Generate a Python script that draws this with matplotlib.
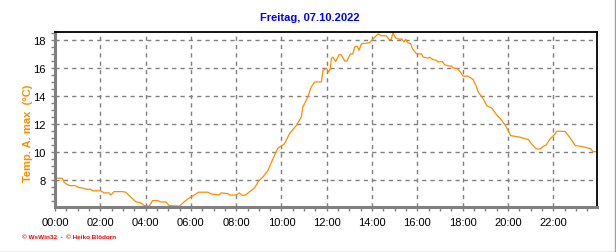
import matplotlib
matplotlib.use("Agg")
import matplotlib.pyplot as plt
from matplotlib.ticker import MultipleLocator, FuncFormatter
from matplotlib.lines import Line2D

# Stunden und Temperatur
hours = [0.0, 0.32, 0.4, 0.5, 0.65, 0.88, 1.06, 1.28, 1.36, 1.58, 1.65, 2.02, 2.17, 2.39,
         2.47, 2.61, 2.98, 3.12, 3.35, 3.57, 3.79, 3.94, 4.16, 4.31, 4.53, 4.68, 4.9,
         5.04, 5.5, 5.71, 5.93, 6.15, 6.34, 6.74, 6.89, 7.26, 7.33, 7.63, 7.7, 8.0,
         8.14, 8.26, 8.41, 8.58, 8.81, 9.0, 9.17, 9.4, 9.65, 9.84, 10.13, 10.35, 10.65,
         10.87, 10.94, 11.16, 11.31, 11.46, 11.76, 11.83, 11.98, 12.08, 12.15, 12.2,
         12.27, 12.39, 12.54, 12.64, 12.79, 12.89, 13.04, 13.15, 13.23, 13.35, 13.42,
         13.53, 13.89, 14.04, 14.27, 14.41, 14.63, 14.75, 14.85, 14.92, 15.04, 15.22,
         15.3, 15.41, 15.48, 15.59, 15.7, 15.78, 15.96, 16.18, 16.26, 16.48, 16.55,
         16.67, 16.84, 16.92, 17.1, 17.21, 17.43, 17.5, 17.58, 17.76, 17.9, 18.02,
         18.24, 18.46, 18.58, 18.69, 18.91, 19.06, 19.28, 19.5, 19.67, 19.87, 20.01,
         20.12, 20.53, 20.68, 20.9, 21.04, 21.24, 21.42, 21.56, 21.68, 21.86, 22.08,
         22.15, 22.52, 22.72, 22.97, 23.19, 23.41, 23.66, 23.75, 23.93]
temps = [8.1, 8.1, 7.81, 7.69, 7.57, 7.57, 7.43, 7.38, 7.31, 7.31, 7.2, 7.2, 7.05, 7.05,
         6.9, 7.14, 7.14, 7.1, 6.74, 6.42, 6.33, 6.14, 6.1, 6.5, 6.5, 6.4, 6.4,
         6.14, 6.1, 6.42, 6.69, 6.9, 7.1, 7.1, 6.98, 6.9, 7.05, 7.0, 6.9, 6.9,
         7.05, 6.88, 6.9, 7.12, 7.4, 7.93, 8.17, 8.65, 9.6, 10.25, 10.56, 11.28, 11.87,
         12.47, 13.19, 13.9, 14.62, 14.98, 15.0, 15.81, 15.98, 15.7, 15.93, 16.65,
         16.77, 16.46, 16.94, 16.94, 16.49, 16.49, 17.0, 17.0, 17.49, 17.55, 17.25,
         17.73, 17.8, 18.08, 18.44, 18.3, 18.3, 18.04, 18.04, 18.52, 18.14, 18.04,
         18.08, 17.85, 18.04, 17.8, 17.73, 17.37, 17.01, 17.0, 16.77, 16.7, 16.77,
         16.6, 16.54, 16.42, 16.46, 16.22, 16.13, 16.13, 15.99, 15.95, 15.7, 15.41,
         15.41, 15.17, 14.74, 14.26, 13.78, 13.3, 13.12, 12.64, 12.35, 11.92, 11.51,
         11.15, 11.04, 10.96, 10.87, 10.56, 10.2, 10.2, 10.39, 10.46, 10.92, 11.28,
         11.47, 11.45, 11.04, 10.44, 10.39, 10.32, 10.2, 10.0, 10.0]

title = "Freitag, 07.10.2022"
ylabel = "Temp. A. max  (°C)"

plt.rcParams['font.family'] = ['Liberation Sans', 'DejaVu Sans']

fig = plt.figure(figsize=(6.16, 2.53), dpi=100)
ax = fig.add_axes([55/616, 45/253, 542/616, 175/253])

ax.plot(hours, temps, color="#ff8c00", lw=0.9)

ax.set_xlim(0, 23.93)
ax.set_ylim(6.04, 18.57)
ax.xaxis.set_major_locator(MultipleLocator(2))
ax.xaxis.set_minor_locator(MultipleLocator(0.5))
ax.xaxis.set_major_formatter(FuncFormatter(lambda v, p: "%02d:00" % int(round(v))))
ax.yaxis.set_major_locator(MultipleLocator(2))
ax.yaxis.set_minor_locator(MultipleLocator(0.5))

ax.grid(True, which="major", color="#808080", linestyle=(0, (3, 3)), lw=1.0)
ax.tick_params(which="both", direction="out", color="#808080", labelsize=8, width=1)
ax.tick_params(which="major", length=3, pad=4)
ax.tick_params(which="minor", length=3)

for s in ["left", "bottom"]:
    ax.spines[s].set_color("#808080")
    ax.spines[s].set_linewidth(2.2)
for s in ["top", "right"]:
    ax.spines[s].set_color("black")
    ax.spines[s].set_linewidth(1.3)

fig.text(0.503, 1 - 18/253, title, color="#0000ff", fontsize=8, fontweight="bold",
         ha="center", va="center")
fig.text(28/616, 120/253, ylabel, color="#ff8c00", fontsize=8, fontweight="bold",
         rotation=90, ha="center", va="center")
fig.text(22/616, 1 - 238/253, "© WsWin32  -  © Heiko Blödorn", color="#ff0000",
         fontsize=4.6, fontweight="bold", ha="left", va="center")

# grauer Rahmen rechts und unten
fig.add_artist(Line2D([0, 1], [0.5/253, 0.5/253], color="#a0a0a0", lw=1.0, transform=fig.transFigure))
fig.add_artist(Line2D([1 - 1/616, 1 - 1/616], [0, 1], color="#a0a0a0", lw=1.0, transform=fig.transFigure))

fig.savefig("out.png", dpi=100)
